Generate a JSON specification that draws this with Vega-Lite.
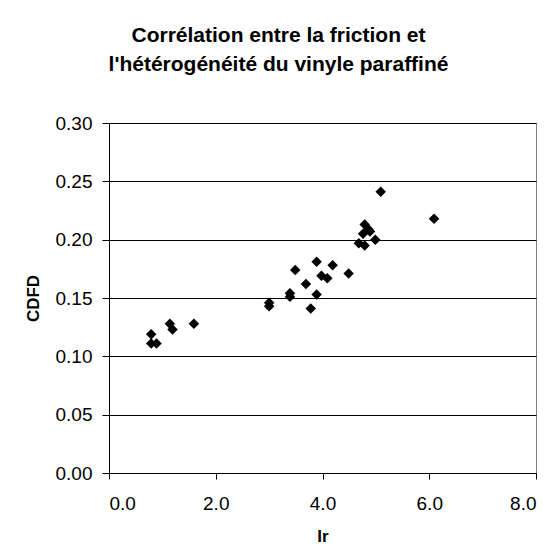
{
  "$schema": "https://vega.github.io/schema/vega-lite/v6.json",
  "width": 427,
  "height": 350,
  "autosize": {"type": "none"},
  "padding": {"left": 109, "top": 123, "right": 21, "bottom": 85},
  "background": "white",
  "title": {
    "text": ["Corrélation entre la friction et", "l'hétérogénéité du vinyle paraffiné"],
    "font": "Liberation Sans",
    "fontSize": 21,
    "fontWeight": "bold",
    "color": "black",
    "lineHeight": 29,
    "anchor": "middle",
    "frame": "group",
    "dx": -44,
    "offset": 39
  },
  "data": {
    "values": [
      {"Ir": 0.79, "CDFD": 0.119},
      {"Ir": 0.79, "CDFD": 0.111},
      {"Ir": 0.89, "CDFD": 0.111},
      {"Ir": 1.14, "CDFD": 0.128},
      {"Ir": 1.19, "CDFD": 0.123},
      {"Ir": 1.59, "CDFD": 0.128},
      {"Ir": 3.0, "CDFD": 0.146},
      {"Ir": 3.0, "CDFD": 0.143},
      {"Ir": 3.39, "CDFD": 0.154},
      {"Ir": 3.39, "CDFD": 0.151},
      {"Ir": 3.49, "CDFD": 0.174},
      {"Ir": 3.69, "CDFD": 0.162},
      {"Ir": 3.78, "CDFD": 0.141},
      {"Ir": 3.89, "CDFD": 0.153},
      {"Ir": 3.89, "CDFD": 0.181},
      {"Ir": 3.98, "CDFD": 0.169},
      {"Ir": 4.09, "CDFD": 0.167},
      {"Ir": 4.19, "CDFD": 0.178},
      {"Ir": 4.49, "CDFD": 0.171},
      {"Ir": 4.68, "CDFD": 0.197},
      {"Ir": 4.76, "CDFD": 0.205},
      {"Ir": 4.79, "CDFD": 0.213},
      {"Ir": 4.79, "CDFD": 0.195},
      {"Ir": 4.86, "CDFD": 0.209},
      {"Ir": 4.89, "CDFD": 0.207},
      {"Ir": 4.99, "CDFD": 0.2},
      {"Ir": 5.09, "CDFD": 0.241},
      {"Ir": 6.09, "CDFD": 0.218}
    ]
  },
  "mark": {"type": "point", "shape": "diamond", "filled": true, "color": "black", "opacity": 1, "size": 110},
  "encoding": {
    "x": {
      "field": "Ir",
      "type": "quantitative",
      "scale": {"domain": [0, 8], "nice": false, "zero": false},
      "axis": {
        "title": "Ir",
        "values": [0, 2, 4, 6, 8],
        "format": ".1f",
        "grid": false,
        "domainColor": "black",
        "tickColor": "black",
        "tickSize": 6,
        "labelFont": "Liberation Sans",
        "labelFontSize": 19,
        "labelColor": "black",
        "labelPadding": 15,
        "titleFont": "Liberation Sans",
        "titleFontSize": 17,
        "titleFontWeight": "bold",
        "titleColor": "black",
        "titlePadding": 15
      }
    },
    "y": {
      "field": "CDFD",
      "type": "quantitative",
      "scale": {"domain": [0, 0.3], "nice": false, "zero": false},
      "axis": {
        "title": "CDFD",
        "values": [0, 0.05, 0.1, 0.15, 0.2, 0.25, 0.3],
        "format": ".2f",
        "grid": true,
        "gridColor": "black",
        "gridOpacity": 1,
        "domainColor": "black",
        "tickColor": "black",
        "tickSize": 7,
        "labelFont": "Liberation Sans",
        "labelFontSize": 19,
        "labelColor": "black",
        "labelPadding": 10,
        "titleFont": "Liberation Sans",
        "titleFontSize": 17,
        "titleFontWeight": "bold",
        "titleColor": "black",
        "titlePadding": 13
      }
    }
  },
  "config": {
    "view": {"stroke": "#808080", "strokeWidth": 1}
  }
}
